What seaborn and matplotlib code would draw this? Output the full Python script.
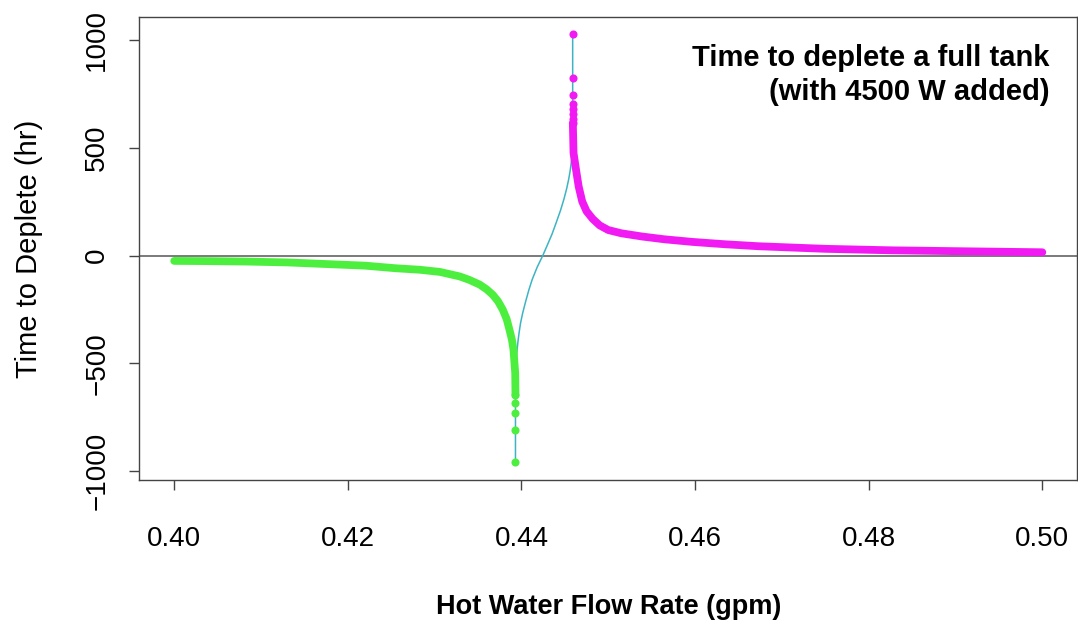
import numpy as np
import pandas as pd
import matplotlib
matplotlib.use('Agg')
import matplotlib.pyplot as plt
import seaborn as sns

# ── Data ────────────────────────────────────────────────────
# green: tank drains (negative time), flow below the pole
neg_flow = [0.4000, 0.4040, 0.4083, 0.4130, 0.4178, 0.4220, 0.4255, 0.4283,
            0.4306, 0.4329, 0.4340, 0.4352, 0.4360, 0.4367, 0.4373, 0.43785,
            0.4383, 0.43862, 0.4389, 0.43908, 0.43928, 0.43931,
            0.43931, 0.43931, 0.43931, 0.43931]
neg_time = [-25, -26, -28, -32, -40, -47, -59, -66, -76, -97, -113, -135,
            -157, -182, -212, -251, -295, -344, -390, -436, -544, -645,
            -683, -730, -807, -958]

# magenta: positive time, flow above the pole
pos_flow = [0.44590, 0.44590, 0.44590, 0.44590, 0.44590, 0.44590, 0.44590,
            0.44592, 0.44600, 0.44629, 0.44659, 0.44700, 0.44750, 0.44820,
            0.44900, 0.45000, 0.45150, 0.4539, 0.4565, 0.4597, 0.4635,
            0.4673, 0.4750, 0.4827, 0.4903, 0.5000]
pos_time = [1026, 822, 745, 703, 679, 655, 634, 614, 475, 397, 320, 250,
            205, 170, 140, 118, 103, 88, 75, 63, 52, 43, 31, 24, 20, 15]

# thin connecting curve through the gap
mid_flow = [0.43931, 0.43931, 0.43946, 0.43958, 0.43972, 0.43990, 0.44015,
            0.44047, 0.44085, 0.44123, 0.44180, 0.44246, 0.44300, 0.44353,
            0.44400, 0.44450, 0.44490, 0.44522, 0.44545, 0.44562, 0.44578,
            0.44590, 0.44590]
mid_time = [-958, -645, -452, -405, -360, -312, -265, -215, -160, -112, -55,
            0, 50, 100, 152, 209, 262, 312, 355, 395, 445, 614, 1026]

x_ticks = [0.40, 0.42, 0.44, 0.46, 0.48, 0.50]
y_ticks = [-1000, -500, 0, 500, 1000]

neg = pd.DataFrame({'flow': neg_flow, 'time': neg_time})
pos = pd.DataFrame({'flow': pos_flow, 'time': pos_time})
mid = pd.DataFrame({'flow': mid_flow, 'time': mid_time})

GREEN = '#4def3f'
MAGENTA = '#f21af2'
CYAN = '#3db4c4'

# ── Style ───────────────────────────────────────────────────
sns.set_style('ticks')
plt.rcParams['font.family'] = ['Liberation Sans', 'DejaVu Sans']
plt.rcParams['text.color'] = 'black'
plt.rcParams['axes.labelcolor'] = 'black'

fig = plt.figure(figsize=(10.78, 6.2), dpi=100)
ax = fig.add_axes([0.1294, 0.2258, 0.8697, 0.7468])

ax.axhline(0, color='#7a7a7a', lw=1.4, zorder=1)

# thin line underneath the points
sns.lineplot(data=mid, x='flow', y='time', sort=False, estimator=None,
             color=CYAN, lw=1.1, ax=ax, zorder=2)

# dense runs of points look like a thick band
band_neg = neg[neg['time'].abs() <= 645]
band_pos = pos[pos['time'].abs() <= 614]
sns.lineplot(data=band_neg, x='flow', y='time', sort=False, estimator=None,
             color=GREEN, lw=5.6, solid_capstyle='round',
             solid_joinstyle='round', ax=ax, zorder=3)
sns.lineplot(data=band_pos, x='flow', y='time', sort=False, estimator=None,
             color=MAGENTA, lw=5.6, solid_capstyle='round',
             solid_joinstyle='round', ax=ax, zorder=3)

# sparse points near the poles
sns.scatterplot(data=neg[neg['time'].abs() > 640], x='flow', y='time',
                color=GREEN, s=34, linewidth=0, ax=ax, zorder=4)
sns.scatterplot(data=pos[pos['time'].abs() > 610], x='flow', y='time',
                color=MAGENTA, s=34, linewidth=0, ax=ax, zorder=4)

ax.set_xlim(0.396, 0.504)
ax.set_ylim(-1040, 1105)
ax.set_xticks(x_ticks)
ax.set_xticklabels([f'{v:.2f}' for v in x_ticks])
ax.set_yticks(y_ticks)
ax.set_yticklabels([str(v).replace('-', '\u2212') for v in y_ticks],
                   rotation=90, va='center')

for s in ax.spines.values():
    s.set_visible(True)
    s.set_color('#444444')
    s.set_linewidth(1.0)

ax.tick_params(axis='both', direction='out', length=7, width=1.0,
               color='#444444', labelsize=20, labelcolor='black')
ax.tick_params(axis='x', pad=26)
ax.tick_params(axis='y', pad=14)

ax.set_xlabel('Hot Water Flow Rate (gpm)', fontsize=19.5, fontweight='bold',
              labelpad=30)
ax.set_ylabel('Time to Deplete (hr)', fontsize=21, labelpad=30)

ax.text(0.971, 0.875, 'Time to deplete a full tank\n(with 4500 W added)',
        transform=ax.transAxes, ha='right', va='center', multialignment='right',
        fontsize=21, fontweight='bold', linespacing=1.3, color='black')

plt.savefig('out.png', dpi=100)
